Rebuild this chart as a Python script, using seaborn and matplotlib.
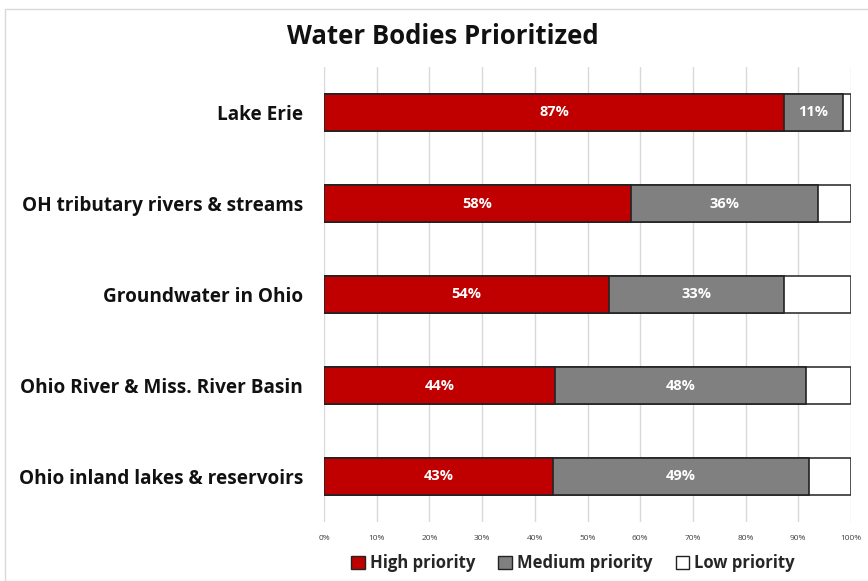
import matplotlib
matplotlib.use("Agg")
import matplotlib.pyplot as plt
import seaborn as sns
import pandas as pd
import numpy as np
from matplotlib.patches import Patch, Rectangle

categories = ["Lake Erie", "OH tributary rivers & streams", "Groundwater in Ohio",
              "Ohio River & Miss. River Basin", "Ohio inland lakes & reservoirs"]
high = [87.3, 58.2, 54.1, 43.8, 43.4]
medium = [11.2, 35.6, 33.2, 47.7, 48.7]
low = [1.5, 6.2, 12.7, 8.5, 7.9]
tick_labels = ["0%", "10%", "20%", "30%", "40%", "50%", "60%", "70%", "80%", "90%", "100%"]

sns.set_theme(style="white")
plt.rcParams['font.family'] = ['Open Sans', 'DejaVu Sans']

df = pd.DataFrame({"cat": categories, "high": high, "medium": medium, "low": low})
df["cum_med"] = df["high"] + df["medium"]
df["cum_low"] = df["cum_med"] + df["low"]

fig = plt.figure(figsize=(8.68, 5.81), dpi=100)
ax = fig.add_axes([324/868, 1-522/581, (851-324)/868, (522-67)/581])

red = "#C00000"
gray = "#808080"
bw = 0.41
sns.barplot(data=df, y="cat", x="cum_low", color="white", edgecolor="#333333", linewidth=1.2, width=bw, ax=ax, orient="h", saturation=1)
sns.barplot(data=df, y="cat", x="cum_med", color=gray, edgecolor="#222222", linewidth=1.2, width=bw, ax=ax, orient="h", saturation=1)
sns.barplot(data=df, y="cat", x="high", color=red, edgecolor="#222222", linewidth=1.2, width=bw, ax=ax, orient="h", saturation=1)

for i, (h, m) in enumerate(zip(high, medium)):
    ax.text(h/2, i, f"{round(h)}%", ha="center", va="center", color="white", fontsize=10.5, fontweight="bold")
    ax.text(h + m/2, i, f"{round(m)}%", ha="center", va="center", color="white", fontsize=10.5, fontweight="bold")

ax.set_xlim(0, 100)
ax.set_ylim(4.5, -0.5)
ax.set_xticks(np.arange(0, 101, 10))
ax.set_xticklabels(tick_labels, fontsize=6, color="#404040")
ax.tick_params(axis="x", length=0, pad=9)
ax.tick_params(axis="y", length=0, pad=15)
for lab in ax.get_yticklabels():
    lab.set_fontsize(13.7)
    lab.set_fontweight("bold")
    lab.set_color("#111111")
ax.set_xlabel("")
ax.set_ylabel("")
ax.grid(axis="x", color="#D9D9D9", linewidth=1)
ax.set_axisbelow(True)
for s in ax.spines.values():
    s.set_visible(False)

fig.text(443/868, 1-37/581, "Water Bodies Prioritized", ha="center", va="center", fontsize=18.5, fontweight="bold", color="#111111")

handles = [Patch(facecolor=red, edgecolor="#222222", label="High priority"),
           Patch(facecolor=gray, edgecolor="#222222", label="Medium priority"),
           Patch(facecolor="white", edgecolor="#222222", label="Low priority")]
leg = fig.legend(handles=handles, loc="center", bbox_to_anchor=(573/868, 1-563/581), ncol=3, frameon=False,
                 handlelength=0.8, handleheight=0.8, handletextpad=0.3, columnspacing=1.4,
                 prop={"size": 12, "weight": "bold"})

fig.patches.append(Rectangle((5/868, 0), 1, 1-9/581, transform=fig.transFigure, fill=False, edgecolor="#D9D9D9", linewidth=1))

fig.savefig("out.png", dpi=100)
